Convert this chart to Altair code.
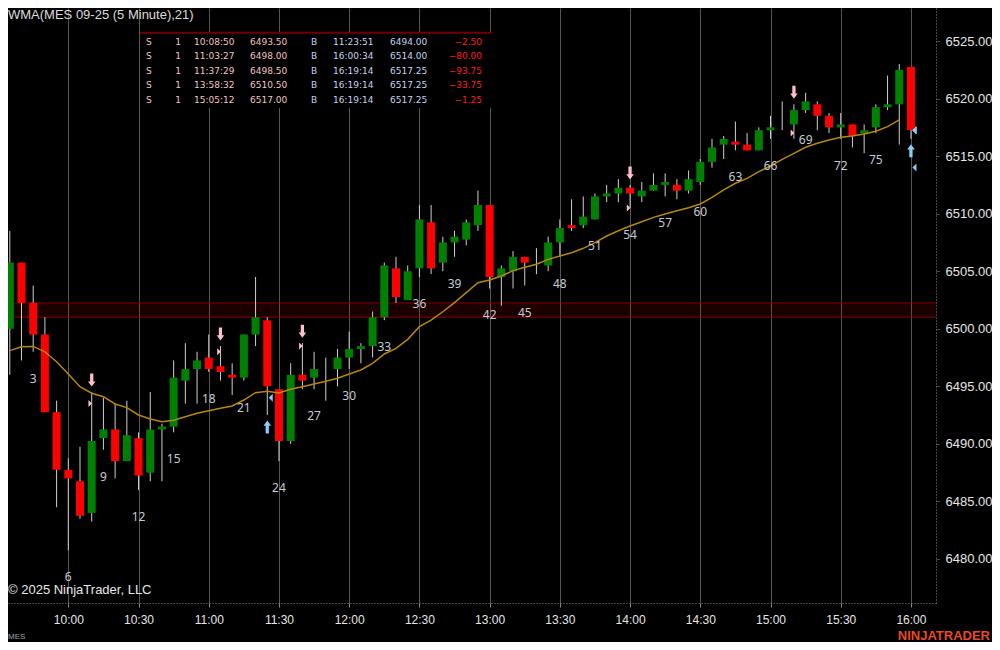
import altair as alt
import pandas as pd

# ---------------- data ----------------
opens = [6500, 6505.75, 6502.25, 6499.5, 6492.75, 6487.75, 6486.75, 6484, 6490.5, 6491.25,
         6488.5, 6490.5, 6487.5, 6491.25, 6491.5, 6495.5, 6496.5, 6497.5, 6496.75, 6496,
         6495.75, 6499.5, 6500.75, 6494.75, 6490.25, 6496, 6495.75, 6496.25, 6496.5, 6497.5,
         6498.25, 6498.5, 6501, 6505.25, 6502.5, 6505.25, 6509.25, 6505.75, 6507.5, 6507.75,
         6509, 6510.75, 6504.5, 6505, 6506.25, 6505.75, 6505.5, 6507.5, 6509, 6509,
         6509.5, 6511.5, 6511.75, 6512.25, 6511.5, 6512, 6512.5, 6512.5, 6512, 6512.75,
         6514.5, 6516, 6516.25, 6516, 6515.5, 6517.25, 6517.75, 6517.75, 6519, 6519.5,
         6518.5, 6517.5, 6517.75, 6517, 6517.5, 6519.25, 6519.5, 6522.75]
highs = [6508.5, 6505.75, 6503.75, 6501, 6493.75, 6488.75, 6489.75, 6494.5, 6494, 6493.5,
         6493.75, 6491, 6494.5, 6491.75, 6497.25, 6498.75, 6498, 6499.5, 6498.5, 6497,
         6499.5, 6504.5, 6501, 6494.75, 6497, 6498.75, 6498, 6497.5, 6498.25, 6499.75,
         6498.75, 6501.5, 6505.75, 6506.25, 6505.5, 6510.75, 6510.75, 6508, 6508.5, 6509.5,
         6512, 6510.75, 6505.5, 6506.75, 6506.25, 6507, 6508, 6509.5, 6511.25, 6511.5,
         6511.75, 6512.5, 6513, 6512.5, 6512.75, 6513.5, 6513.5, 6513, 6513.75, 6514.75,
         6516.5, 6516.75, 6518, 6517, 6517.5, 6518.5, 6519.75, 6519.5, 6520.5, 6519.75,
         6518.75, 6518.75, 6517.75, 6517.75, 6519.5, 6522, 6523, 6522.75]
lows = [6496, 6497.25, 6498, 6492.75, 6484.5, 6480.75, 6483.5, 6483.25, 6489.5, 6487,
        6488.5, 6486, 6486.75, 6486.75, 6491, 6493.5, 6493.5, 6496.25, 6495.5, 6494.25,
        6495.5, 6498.5, 6492.5, 6488.5, 6490, 6494.75, 6494.75, 6493.75, 6495, 6496.5,
        6497, 6497.5, 6500.75, 6502.25, 6502.5, 6504.5, 6504.75, 6505, 6506.25, 6507.25,
        6508.5, 6503.5, 6502, 6503.5, 6503.75, 6504.75, 6505, 6506.25, 6508.5, 6508.75,
        6509.5, 6511, 6511, 6510.5, 6511, 6512, 6511.5, 6511.25, 6511.75, 6512.5,
        6514, 6514.75, 6515.5, 6515.5, 6515.5, 6516.5, 6517.25, 6516.5, 6518.75, 6517.25,
        6517, 6516.5, 6515.75, 6515.25, 6517, 6519, 6516, 6516.5]
closes = [6505.75, 6502.25, 6499.5, 6492.75, 6487.75, 6487, 6483.75, 6490.25, 6491.25, 6488.5,
          6490.75, 6487.25, 6491.25, 6491.5, 6495.75, 6496.5, 6497.25, 6496.5, 6496.25, 6495.75,
          6499.5, 6501, 6495, 6490.25, 6496, 6495.5, 6496.5, 6496.25, 6497.5, 6498.25,
          6498.5, 6501, 6505.5, 6502.75, 6505, 6509.5, 6505.25, 6507.5, 6508, 6509.25,
          6510.75, 6504.5, 6505.25, 6506.25, 6505.75, 6505.75, 6507.5, 6508.75, 6508.75, 6509.75,
          6511.5, 6511.75, 6512.25, 6511.75, 6512, 6512.5, 6512.75, 6512, 6513, 6514.5,
          6515.75, 6516.5, 6516, 6515.5, 6517.25, 6517.5, 6517.75, 6519, 6519.75, 6518.5,
          6517.5, 6517.75, 6516.75, 6517.25, 6519.25, 6519.5, 6522.5, 6517.25]
wma = [6498.1, 6498.44, 6498.47, 6498.0, 6497.14, 6496.07, 6494.97, 6494.4, 6494.1, 6493.47,
       6493.15, 6492.51, 6492.16, 6491.93, 6492.05, 6492.36, 6492.66, 6492.88, 6493.09, 6493.29,
       6493.81, 6494.45, 6494.57, 6494.42, 6494.74, 6494.97, 6495.2, 6495.44, 6495.7, 6496.07,
       6496.42, 6497.0, 6497.81, 6498.3, 6499.08, 6500.18, 6500.76, 6501.48, 6502.27, 6503.14,
       6504.0, 6504.24, 6504.58, 6505.05, 6505.34, 6505.6, 6506.03, 6506.32, 6506.61, 6506.99,
       6507.48, 6508.06, 6508.52, 6508.93, 6509.3, 6509.68, 6509.97, 6510.26, 6510.52, 6510.84,
       6511.42, 6512.06, 6512.64, 6513.07, 6513.65, 6514.14, 6514.72, 6515.24, 6515.77, 6516.11,
       6516.4, 6516.63, 6516.75, 6516.92, 6517.16, 6517.56, 6518.14]

zone = [6501.00, 6502.25]
price_ticks = [6480, 6485, 6490, 6495, 6500, 6505, 6510, 6515, 6520, 6525]
time_ticks = ["10:00", "10:30", "11:00", "11:30", "12:00", "12:30", "13:00",
              "13:30", "14:00", "14:30", "15:00", "15:30", "16:00"]

entry_side = ["S", "S", "S", "S", "S"]
qty = [1, 1, 1, 1, 1]
entry_time = ["10:08:50", "11:03:27", "11:37:29", "13:58:32", "15:05:12"]
entry_price = [6493.50, 6498.00, 6498.50, 6510.50, 6517.00]
exit_side = ["B", "B", "B", "B", "B"]
exit_time = ["11:23:51", "16:00:34", "16:19:14", "16:19:14", "16:19:14"]
exit_price = [6494.00, 6514.00, 6517.25, 6517.25, 6517.25]
pnl = [-2.50, -80.00, -93.75, -33.75, -1.25]

# ---------------- tables ----------------
DAY = "2025-08-15"
times = pd.date_range(f"{DAY} 09:35", periods=len(opens), freq="5min")
bars = pd.DataFrame({
    "t": times, "n": list(range(1, len(opens) + 1)),
    "open": opens, "high": highs, "low": lows, "close": closes,
    "wma": wma + [None] * (len(opens) - len(wma)),
})
bars["dir"] = ["up" if c >= o else "down" for o, c in zip(opens, closes)]


def bar_of(ts):
    t = pd.Timestamp(f"{DAY} {ts}").ceil("5min")
    return min(t, times[-1])


entries = pd.DataFrame({"t": [bar_of(s) for s in entry_time], "price": entry_price})
entries = entries.merge(bars[["t", "high"]], on="t")
exits = pd.DataFrame({"t": [bar_of(s) for s in exit_time], "price": exit_price})
exits = exits.merge(bars[["t", "low"]], on="t")
exit_arrows = exits.drop_duplicates("t")
zone_df = pd.DataFrame({"lo": [zone[0]], "hi": [zone[1]]})
zone_edges = pd.DataFrame({"level": zone})
trades = pd.DataFrame({
    "row": list(range(len(entry_side))), "es": entry_side, "q": qty, "et": entry_time,
    "ep": entry_price, "xs": exit_side, "xt": exit_time, "xp": exit_price, "pnl": pnl,
})
one = pd.DataFrame({"k": [0]})

# ---------------- scales / axes ----------------
W, H = 928, 595


def dt(h, m, s=0):
    return alt.DateTime(year=2025, month=8, date=15, hours=h, minutes=m, seconds=s)


xs = alt.Scale(domain=[dt(9, 34, 14), dt(16, 10, 42)], nice=False, padding=0)
ys = alt.Scale(domain=[6476.177, 6527.867], nice=False, zero=False, padding=0)
xaxis = alt.Axis(
    values=[dt(int(s[:2]), int(s[3:])) for s in time_ticks], format="%H:%M", title=None,
    grid=True, gridColor="#565656", gridWidth=1,
    domainColor="#8a8a8a", domainDash=[1, 2], tickColor="#8a8a8a", tickSize=4,
    labelColor="#e6e6e6", labelFont="Liberation Sans", labelFontSize=12,
    labelPadding=7, labelFlush=False, labelOverlap=False,
)
yaxis = alt.Axis(
    orient="right", values=price_ticks, format=".2f", title=None, grid=False,
    domainColor="#8a8a8a", domainDash=[1, 2], tickColor="#8a8a8a", tickSize=4,
    tickDash=[1, 1], labelColor="#e6e6e6", labelFont="Liberation Sans",
    labelFontSize=13, labelPadding=5, labelFlush=False, labelOverlap=False,
)


def X(f="t"):
    return alt.X(f"{f}:T", scale=xs, axis=xaxis)


def Y(f):
    return alt.Y(f"{f}:Q", scale=ys, axis=yaxis)


base = alt.Chart(bars)

band = alt.Chart(zone_df).mark_rect(color="#ff0000", opacity=0.11).encode(
    x=alt.value(0), x2=alt.value(W), y=Y("hi"), y2="lo")
band_edges = alt.Chart(zone_edges).mark_rule(color="#7e0000", strokeWidth=1).encode(
    x=alt.value(0), x2=alt.value(W), y=Y("level"))

wicks = base.mark_rule(color="#cfcfcf", strokeWidth=1).encode(x=X(), y=Y("low"), y2="high")
bodies = base.mark_bar(width=8).encode(
    x=X(), y=Y("open"), y2="close",
    color=alt.Color("dir:N", scale=alt.Scale(domain=["up", "down"], range=["#008000", "#ff0000"]),
                    legend=None))
wma_line = base.mark_line(color="#b8860b", strokeWidth=1.5).encode(x=X(), y=Y("wma"))
numbers = base.transform_filter("datum.n % 3 == 0 && datum.n < 78").mark_text(
    dy=27, baseline="middle", align="center", color="#c4ccd8", font="Noto Sans", fontSize=12
).encode(x=X(), y=Y("low"), text="n:Q")

DOWN = "M -0.25 -1 L 0.25 -1 L 0.25 0.2 L 0.58 0.2 L 0 1 L -0.58 0.2 L -0.25 0.2 Z"
UP = "M -0.25 1 L 0.25 1 L 0.25 -0.2 L 0.58 -0.2 L 0 -1 L -0.58 -0.2 L -0.25 -0.2 Z"
TRI_R = "M -0.5 -1 L 0.5 0 L -0.5 1 Z"
TRI_L = "M 0.5 -1 L -0.5 0 L 0.5 1 Z"

sell_arrows = alt.Chart(entries).mark_point(
    shape=DOWN, size=169, filled=True, color="#ffc0cb", opacity=1, strokeWidth=0, yOffset=-12
).encode(x=X(), y=Y("high"))
sell_marks = alt.Chart(entries).mark_point(
    shape=TRI_R, size=49, filled=True, color="#ffc0cb", opacity=1, strokeWidth=0, xOffset=-1.5
).encode(x=X(), y=Y("price"))
buy_arrows = alt.Chart(exit_arrows).mark_point(
    shape=UP, size=169, filled=True, color="#87cefa", opacity=1, strokeWidth=0, yOffset=12
).encode(x=X(), y=Y("low"))
buy_marks = alt.Chart(exits).mark_point(
    shape=TRI_L, size=64, filled=True, color="#87cefa", opacity=1, strokeWidth=0, xOffset=3.5
).encode(x=X(), y=Y("price"))

title_txt = alt.Chart(one).mark_text(
    text="WMA(MES 09-25 (5 Minute),21)", align="left", baseline="middle",
    font="Liberation Sans", fontSize=13, color="#dcdcdc"
).encode(x=alt.value(0), y=alt.value(7))
copy_txt = alt.Chart(one).mark_text(
    text="© 2025 NinjaTrader, LLC", align="left", baseline="middle",
    font="Liberation Sans", fontSize=13, color="#e8e8e8"
).encode(x=alt.value(0), y=alt.value(582))
mes_txt = alt.Chart(one).mark_text(
    text="MES", align="left", baseline="middle", font="Liberation Sans", fontSize=8,
    color="#a0a0a0"
).encode(x=alt.value(0), y=alt.value(629))
logo_txt = alt.Chart(one).mark_text(
    text="NINJATRADER", align="right", baseline="middle", font="Liberation Sans",
    fontSize=13, fontWeight="bold", color="#e84a22"
).encode(x=alt.value(982), y=alt.value(628))

main = alt.layer(band, band_edges, wicks, bodies, wma_line, numbers,
                 sell_arrows, sell_marks, buy_arrows, buy_marks,
                 title_txt, copy_txt, mes_txt, logo_txt)

# ---------------- trade table ----------------
ROW = alt.Y("row:O", scale=alt.Scale(type="point", range=[33.7, 92], padding=0), axis=None)
table_bg = alt.Chart(one).mark_rect(color="#000000").encode(
    x=alt.value(132), x2=alt.value(484), y=alt.value(25), y2=alt.value(100))
table_line = alt.Chart(one).mark_rule(color="#6e0000", strokeWidth=2).encode(
    x=alt.value(132), x2=alt.value(484), y=alt.value(24.7))

PINK, BLUE, RED = "#f2c4c4", "#c8d2f0", "#ff1a1a"
cols = [("es", 138, "left", PINK, None), ("q", 170, "center", PINK, None),
        ("et", 186, "left", PINK, None), ("ep", 242, "left", PINK, ".2f"),
        ("xs", 303, "left", BLUE, None), ("xt", 325, "left", BLUE, None),
        ("xp", 382, "left", BLUE, ".2f"), ("pnl", 474, "right", RED, ".2f")]
table_layers = [table_bg, table_line]
for field, px, align, colr, fmt in cols:
    txt = alt.Text(f"{field}:Q", format=fmt) if fmt else alt.Text(f"{field}:N")
    table_layers.append(
        alt.Chart(trades).mark_text(align=align, baseline="middle", font="DejaVu Sans",
                                    fontSize=9, color=colr)
        .encode(x=alt.value(px), y=ROW, text=txt))
table = alt.layer(*table_layers)

chart = (
    alt.layer(main, table)
    .resolve_scale(y="independent")
    .properties(width=W, height=H,
                padding={"left": 0, "top": 0, "right": 56, "bottom": 39},
                autosize=alt.AutoSizeParams(type="none"),
                background="#000000")
    .configure_view(stroke=None)
)

chart.save("out.html", embed_options={"renderer": "svg", "actions": False})
